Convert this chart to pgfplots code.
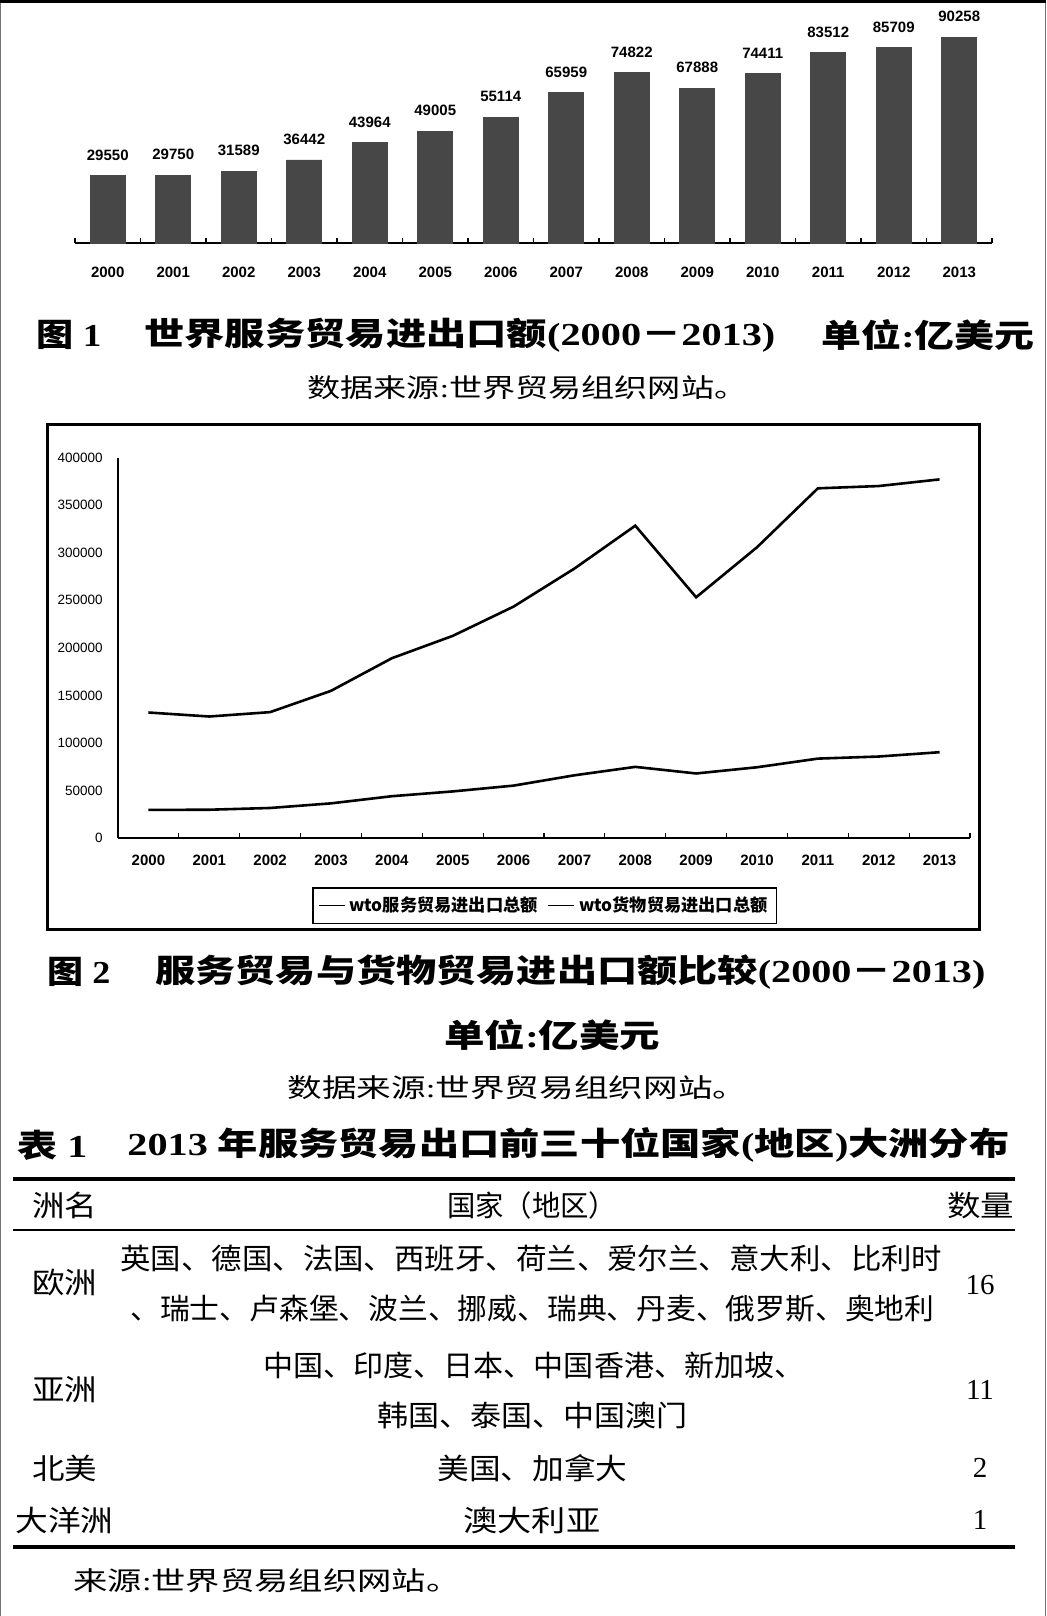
\documentclass[border=0pt]{standalone}
\usepackage{fontspec}
\usepackage{graphicx}
\usepackage{pgfplots}
\pgfplotsset{compat=1.18}
\setmainfont{Liberation Serif}
\newfontfamily\hei{Noto Sans CJK SC}
\newfontfamily\lsans{Liberation Sans}
\newcommand\R[2]{\resizebox{#1}{\height}{#2}}
\definecolor{barfill}{HTML}{474747}
\begin{document}
\begin{tikzpicture}
\path[use as bounding box] (0,0) rectangle (523pt,-808pt);
% ---------------- bar chart ----------------
\begin{axis}[at={(37.5pt,-121.5pt)}, anchor=south west, scale only axis,
  width=458.5pt, height=113.9pt, xmin=-0.5, xmax=13.5, ymin=0, ymax=100000,
  axis x line=bottom, axis y line=none, axis line style={-, line width=1.1pt},
  xtick={0,1,2,3,4,5,6,7,8,9,10,11,12,13},
  xticklabels={2000,2001,2002,2003,2004,2005,2006,2007,2008,2009,2010,2011,2012,2013},
  minor xtick={-0.5,0.5,1.5,2.5,3.5,4.5,5.5,6.5,7.5,8.5,9.5,10.5,11.5,12.5,13.5},
  major tick length=0pt, minor tick length=2.5pt, tick align=inside,
  minor tick style={black, line width=0.6pt},
  x tick label style={font=\lsans\bfseries\fontsize{7.5}{7.5}\selectfont, anchor=center, yshift=-14.5pt},
  ytick=\empty, clip=false]
\addplot[ybar, bar width=17.5pt, fill=barfill, draw=barfill,
  nodes near coords, point meta=explicit symbolic,
  every node near coord/.append style={font=\lsans\bfseries\fontsize{7.5}{7.5}\selectfont, anchor=south, inner sep=0pt, yshift=7.5pt, black}]
coordinates {(0,29550)[29550] (1,29750)[29750] (2,31589)[31589] (3,36442)[36442]
 (4,43964)[43964] (5,49005)[49005] (6,55114)[55114] (7,65959)[65959]
 (8,74822)[74822] (9,67888)[67888] (10,74411)[74411] (11,83512)[83512]
 (12,85709)[85709] (13,90258)[90258]};
\end{axis}
% ---------------- line chart ----------------
\begin{axis}[at={(59pt,-419pt)}, anchor=south west, scale only axis,
  width=426pt, height=190.15pt, xmin=-0.5, xmax=13.5, ymin=0, ymax=400000,
  axis lines=left, axis line style={-, line width=1.2pt},
  scaled y ticks=false,
  xtick={0,1,2,3,4,5,6,7,8,9,10,11,12,13},
  xticklabels={2000,2001,2002,2003,2004,2005,2006,2007,2008,2009,2010,2011,2012,2013},
  minor xtick={-0.5,0.5,1.5,2.5,3.5,4.5,5.5,6.5,7.5,8.5,9.5,10.5,11.5,12.5,13.5},
  ytick={0,50000,100000,150000,200000,250000,300000,350000,400000},
  yticklabels={0,50000,100000,150000,200000,250000,300000,350000,400000},
  major tick length=0pt, minor tick length=2.5pt, tick align=inside,
  minor tick style={black, line width=0.6pt},
  x tick label style={font=\lsans\bfseries\fontsize{7.5}{7.5}\selectfont, anchor=center, yshift=-11pt},
  y tick label style={font=\lsans\fontsize{6.75}{6.75}\selectfont, anchor=east, inner sep=0pt, xshift=-7.5pt},
  legend columns=2,
  legend style={at={(0.2277,-0.1288)}, anchor=north west, draw=black, line width=0.8pt,
    font=\hei\bfseries\fontsize{8.6}{8.6}\selectfont, inner sep=2.5pt,
    /tikz/every even column/.append style={column sep=3pt}},
  legend image code/.code={\draw[#1, line width=0.7pt] (0pt,0pt) -- (13pt,0pt);},
  clip=false]
\addplot[black, line width=1.3pt] coordinates {(0,29550) (1,29750) (2,31589) (3,36442)
 (4,43964) (5,49005) (6,55114) (7,65959) (8,74822) (9,67888) (10,74411) (11,83512)
 (12,85709) (13,90258)};
\addlegendentry{wto服务贸易进出口总额}
\addplot[black, line width=1.3pt] coordinates {(0,132000) (1,127800) (2,132400) (3,154800)
 (4,189100) (5,212600) (6,243400) (7,283400) (8,328500) (9,253200) (10,305800)
 (11,367800) (12,370200) (13,377200)};
\addlegendentry{wto货物贸易进出口总额}
\end{axis}
% ---------------- text, frames, table ----------------
\begin{scope}[x=0.5pt, y=-0.5pt, every node/.style={inner sep=0pt}]
\draw[black!55, line width=0.7pt] (0.7,0) -- (0.7,1616);
\draw[black!55, line width=0.7pt] (1045.3,0) -- (1045.3,1616);
\draw[black, line width=1.5pt] (0,1.5) -- (1046,1.5);
% frame of line chart
\draw[black, line width=1.5pt] (47,424) rectangle (979,929);
% captions
\begin{scope}[every node/.append style={font=\bfseries\fontsize{16}{16}\selectfont}]
\node[anchor=west] at (36,335) {\R{32.5pt}{{\hei 图} 1}};
\node[anchor=west] at (144,335) {\R{315.5pt}{{\hei 世界服务贸易进出口额}(2000{\hei －}2013)}};
\node[anchor=west] at (821,335) {\R{106.5pt}{{\hei 单位}:{\hei 亿美元}}};
\node[anchor=west] at (47,972) {\R{31.5pt}{{\hei 图} 2}};
\node[anchor=west] at (155,972) {\R{415pt}{{\hei 服务贸易与货物贸易进出口额比较}(2000{\hei －}2013)}};
\node[anchor=west] at (444,1035) {\R{108pt}{{\hei 单位}:{\hei 亿美元}}};
\node[anchor=west] at (17,1145) {\R{35pt}{{\hei 表} 1}};
\node[anchor=west] at (127,1145) {\R{441pt}{2013 {\hei 年服务贸易出口前三十位国家}({\hei 地区}){\hei 大洲分布}}};
\end{scope}
\begin{scope}[every node/.append style={font=\fontsize{13}{13}\selectfont}]
\node[anchor=west] at (307,388) {\R{220pt}{{\hei 数据来源}:{\hei 世界贸易组织网站。}}};
\node[anchor=west] at (287,1088) {\R{230pt}{{\hei 数据来源}:{\hei 世界贸易组织网站。}}};
\node[anchor=west] at (73,1581) {\R{193.5pt}{{\hei 来源}:{\hei 世界贸易组织网站。}}};
\end{scope}
% table
\draw[line width=2pt] (13,1179) -- (1015,1179);
\draw[line width=0.8pt] (13,1230) -- (1015,1230);
\draw[line width=1.8pt] (13,1547) -- (1015,1547);
\begin{scope}[every node/.append style={font=\fontsize{14.5}{14.5}\selectfont}]
\node[anchor=west] at (32,1205) {\R{32.5pt}{\hei 洲名}};
\node at (532,1205) {\R{85pt}{\hei 国家（地区）}};
\node[anchor=west] at (947,1205) {\R{33.5pt}{\hei 数量}};
\node[anchor=west] at (32,1283) {\R{32.5pt}{\hei 欧洲}};
\node[anchor=west] at (120,1258) {\R{411pt}{\hei 英国、德国、法国、西班牙、荷兰、爱尔兰、意大利、比利时}};
\node[anchor=west] at (130,1309) {\R{402pt}{\hei 、瑞士、卢森堡、波兰、挪威、瑞典、丹麦、俄罗斯、奥地利}};
\node at (980,1285) {16};
\node[anchor=west] at (32,1390) {\R{32.5pt}{\hei 亚洲}};
\node[anchor=west] at (263,1365) {\R{270.5pt}{\hei 中国、印度、日本、中国香港、新加坡、}};
\node[anchor=west] at (377,1415) {\R{155pt}{\hei 韩国、泰国、中国澳门}};
\node at (980,1390) {11};
\node[anchor=west] at (32,1468) {\R{32.5pt}{\hei 北美}};
\node[anchor=west] at (437,1468) {\R{95pt}{\hei 美国、加拿大}};
\node at (980,1468) {2};
\node[anchor=west] at (15,1520) {\R{49pt}{\hei 大洋洲}};
\node[anchor=west] at (463,1520) {\R{68.5pt}{\hei 澳大利亚}};
\node at (980,1520) {1};
\end{scope}
\end{scope}
\end{tikzpicture}
\end{document}
